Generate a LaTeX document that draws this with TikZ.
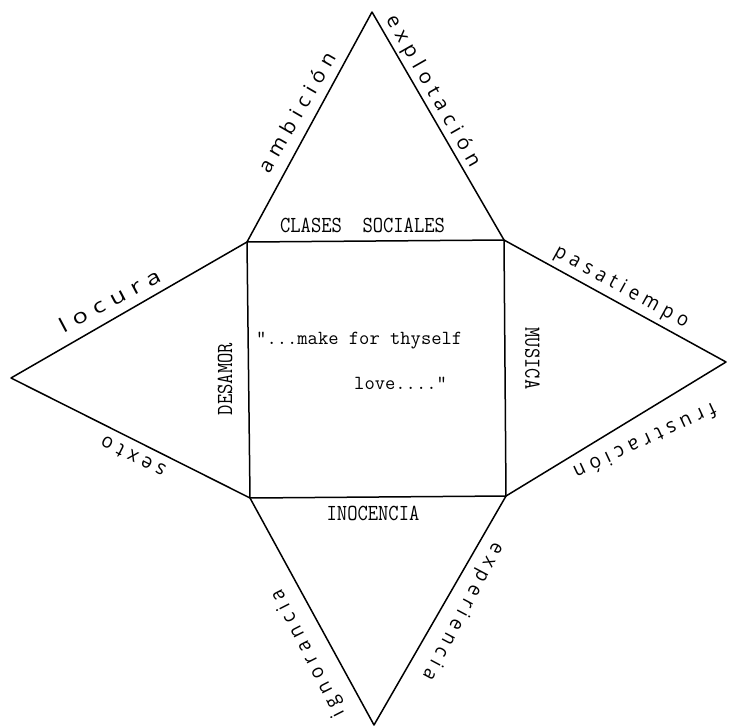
\documentclass[tikz,border=0pt]{standalone}
\usepackage{fontspec}
\usepackage{graphicx}
\newfontfamily\handfont[LetterSpace=30]{Open Sans}
\newcommand{\hw}[2]{\resizebox{#1}{\height}{#2}}
\newcommand{\tall}[1]{\scalebox{1}[1.15]{#1}}
\tikzset{
  edgeline/.style={line width=1.5pt, line join=round, line cap=round},
  typed/.style={font=\fontsize{20}{24}\selectfont\ttfamily, inner sep=0pt},
  handlbl/.style={font=\fontsize{20}{24}\selectfont\handfont, inner sep=0pt, anchor=mid},
}
\begin{document}
\begin{tikzpicture}[x=1pt,y=-1pt]
\useasboundingbox (0,0) rectangle (728,728);
\fill[white] (0,0) rectangle (728,728);
% vertices
\coordinate (T)  at (372,12);
\coordinate (TL) at (247,242);
\coordinate (TR) at (504,240);
\coordinate (R)  at (726,362);
\coordinate (BR) at (506,496);
\coordinate (B)  at (374,725);
\coordinate (BL) at (250,498);
\coordinate (L)  at (11,378);
% outer star outline and central square
\draw[edgeline] (TL) -- (T) -- (TR) -- (R) -- (BR) -- (B) -- (BL) -- (L) -- cycle;
\draw[edgeline] (TL) -- (TR) -- (BR) -- (BL) -- cycle;
% typed labels
\node[typed] (clases) at (362.5,225) {\tall{CLASES\ \ SOCIALES}};
\node[typed] (inocencia) at (373,513) {\tall{INOCENCIA}};
\node[typed, rotate=90] (desamor) at (225,379) {\tall{DESAMOR}};
\node[typed, rotate=-90] (musica) at (532.5,358.5) {\tall{MUSICA}};
\node[typed, anchor=mid west] (quote1) at (256,342) {"...make for thyself};
\node[typed, anchor=mid west] (quote2) at (354,387) {love...."};
% handwritten labels
\node[handlbl, rotate=60] (ambicion) at (301,115) {\hw{135pt}{ambición}};
\node[handlbl, rotate=-60.3] (explotacion) at (430,93) {\hw{172pt}{explotación}};
\node[handlbl, rotate=28] (locura) at (112,305) {\hw{112pt}{locura}};
\node[handlbl, rotate=153] (sexto) at (135,453) {\hw{70pt}{sexto}};
\node[handlbl, rotate=-28.8] (pasatiempo) at (620,290) {\hw{150pt}{pasatiempo}};
\node[handlbl, rotate=205] (frustracion) at (643,437) {\hw{155pt}{frustración}};
\node[handlbl, rotate=117] (ignorancia) at (311,652) {\hw{140pt}{ignorancia}};
\node[handlbl, rotate=242] (experiencia) at (460,610) {\hw{152pt}{experiencia}};
\end{tikzpicture}
\end{document}
